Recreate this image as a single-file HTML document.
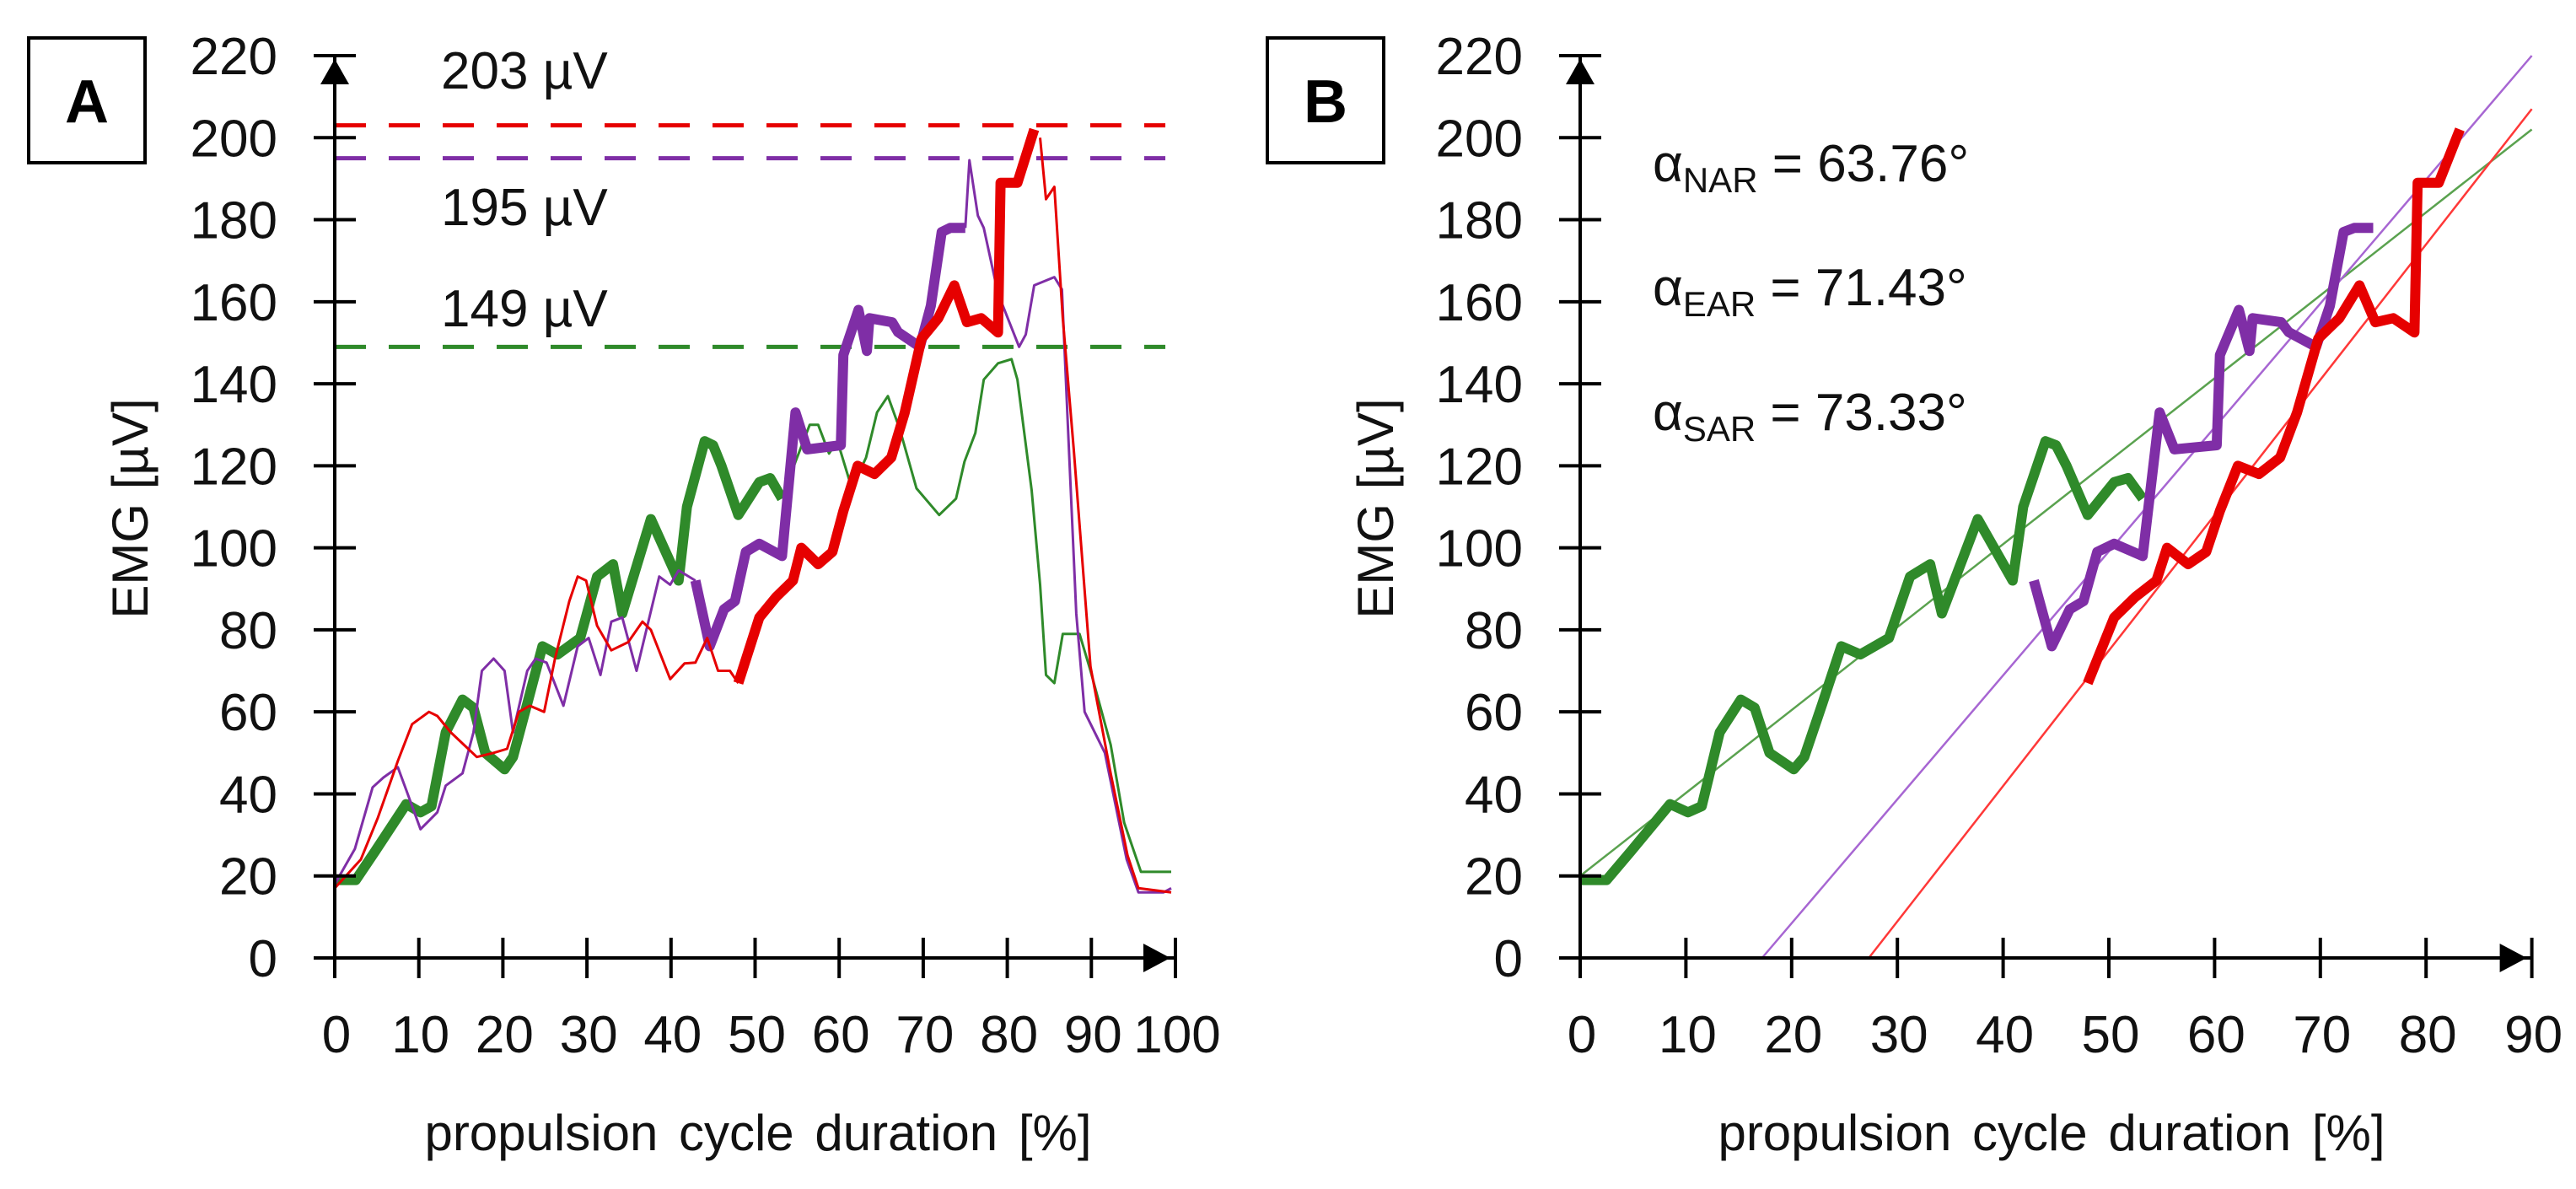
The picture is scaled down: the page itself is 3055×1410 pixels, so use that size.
<!DOCTYPE html>
<html><head><meta charset="utf-8">
<style>
html,body{margin:0;padding:0;background:#fff;}
svg{display:block;font-family:"Liberation Sans",sans-serif;}
</style></head>
<body>
<svg id="chart" width="3055" height="1410" viewBox="0 0 3055 1410" xmlns="http://www.w3.org/2000/svg">
<rect x="0" y="0" width="3055" height="1410" fill="#fff"/>
<g id="panelA"></g>
<g id="panelB"></g>
</svg>
<script>
// ---- data (x = propulsion cycle %, y = EMG µV) ----
const greenX = [0,2.5,4.8,8.5,10.2,11.5,13.2,15.2,16.5,17.9,20.2,21.2,22.9,24.7,26.5,29.2,31.2,33.1,34.2,37.6,40.9,41.9,44,45,46,48,50.5,51.8,53.2,54.8,56.5,57.5,58.8,59.8,61.5,63.2,64.5,65.8,67.2,69.2,71.9,73.9,74.9,76.2,77.2,78.9,80.5,81.2,82.9,83.9,84.6,85.6,86.6,88.6,89.9,92.3,93.9,95.9,99.5];
const greenY = [19,19,26,37.5,35.5,37,55,63,61,50,46,49,62,76,74,78,93,96,84,107,92,110,126,125,120,108,116,117,112,121,130,130,123,126,114.5,122,133,137,129,114.5,108,112,121,128,141,145,146,141,114,91,69,67,79,79,70,52,33,21,21];
const purpleX = [0,2.4,4.5,5.8,7.5,8.5,10.2,12.2,13.2,15.2,16.5,17.5,18.9,20.2,21.2,22.9,23.9,25.2,27.2,28.9,30.2,31.6,32.9,34.2,35.9,38.6,39.9,40.9,42.9,44.6,46.3,47.6,48.9,50.5,53.2,54.8,56.2,60.2,60.5,62.3,63.3,63.6,66.3,67,69.6,70.9,72.2,73.2,75,75.5,76.5,77.2,78.9,81.4,82.2,83.2,85.6,86.5,87.2,88.2,89.2,91.6,94.2,95.6,98.6,99.5];
const purpleY = [18,26.6,41.6,44,46.5,41,31.4,35.5,42,45,55,70,73,70,55,70,73,72,61.5,76,78,69,82,83,70,93,91,94.5,92,76,85,87,99,101,98,133,124,125,147,158,148,156,155,152.6,149,159,177,178,178,194.5,181,178,162,149,152,164,166,163,130,84,60,50,24,16,16,17];
const redX = [0,3.1,5.1,7.5,9.2,11.2,12.2,13.8,16.9,18.9,20.5,21.9,23.2,24.9,26.2,27.9,28.9,29.9,31.2,32.9,34.9,36.6,37.6,39.9,41.6,42.9,44.3,45.6,47,48,50.5,52.5,54.5,55.5,57.5,59.2,60.5,62.2,64.2,66.2,67.8,69.8,71.8,73.7,75.2,76.9,78.9,79.2,81.2,83.2,83.9,84.6,85.6,86.6,87.9,89.9,92.3,94.3,95.6,99.5];
const redY = [17,24,34,48,57,60,59,55,49,50,51,60,61.5,60,73,87,93,92,81,75,77,82,80,68,71.8,72,78,70,70,67,83,88,92,100,96,99,109,120,118,122,133,151,156,164,155,156,152.5,189,189,202,200,185,188,156,124,71,45,25,17,16];
const thickRanges = {green:[0,53.2], purple:[42.9,75], red:[48,83.3]};
const peakValues = [203,195,149];
const peakLabels = ["203 µV","195 µV","149 µV"];
const yTicks = [0,20,40,60,80,100,120,140,160,180,200,220];
const xTicksA = [0,10,20,30,40,50,60,70,80,90,100];
const xTicksB = [0,10,20,30,40,50,60,70,80,90];
// fit lines in panel B: [x0,y0,x1,y1]
const fitGreen = [0,20,90,202];
const fitPurple = [17.2,0,90,220];
const fitRed = [27.3,0,90,207];
const angleNames = ["NAR","EAR","SAR"];
const angleValues = ["63.76°","71.43°","73.33°"];

const NS="http://www.w3.org/2000/svg";
const COL={green:"#2f8a2a",purple:"#7f2ea6",red:"#e60000"};
const FIT={green:"#5aa24f",purple:"#a766d2",red:"#ff3838"};
function mk(tag,attrs,parent){const e=document.createElementNS(NS,tag);for(const k in attrs)e.setAttribute(k,attrs[k]);parent.appendChild(e);return e;}
const Y0=1136, YS=(1136-66)/220;
function yv(v){return Y0-v*YS;}

function drawAxes(g,x0,xs,ticks,xmax){
  const xe=x0+xmax*xs;
  for(const t of yTicks){
    const tk=mk('line',{x1:x0-25,x2:x0+25,y1:yv(t),y2:yv(t),stroke:'#000','stroke-width':4},g);
    
    
    const lb=mk('text',{x:x0-68,y:yv(t)+22,'font-size':62,'text-anchor':'end',fill:'#111'},g);
    lb.textContent=t;
    
    
  }
  for(const t of ticks){
    const xx=x0+t*xs;
    const tk=mk('line',{x1:xx,x2:xx,y1:Y0-24,y2:Y0+24,stroke:'#000','stroke-width':4},g);
    
    
    const lb=mk('text',{x:xx+2,y:Y0+112,'font-size':62,'text-anchor':'middle',fill:'#111'},g);
    lb.textContent=t;
    
    
  }
  const ya=mk('line',{x1:x0,x2:x0,y1:yv(220),y2:Y0+24,stroke:'#000','stroke-width':4},g);
  
  
  const xa=mk('line',{x1:x0-25,x2:xe,y1:Y0,y2:Y0,stroke:'#000','stroke-width':4},g);
  
  
  const ua=mk('path',{d:`M${x0-17},${yv(220)+34} L${x0},${yv(220)+4} L${x0+17},${yv(220)+34} Z`,fill:'#000'},g);
  
  
  const ra=mk('path',{d:`M${xe-38},${Y0-17} L${xe-6},${Y0} L${xe-38},${Y0+17} Z`,fill:'#000'},g);
  
  
}
function pts(X,Y,x0,xs,lo,hi){
  const p=[];
  for(let i=0;i<X.length;i++){ if(X[i]>=lo-1e-9 && X[i]<=hi+1e-9) p.push((x0+X[i]*xs).toFixed(1)+','+yv(Y[i]).toFixed(1)); }
  return p.join(' ');
}
function series(g,name,X,Y,x0,xs,withThin){
  const r=thickRanges[name];
  if(withThin){
    const a=mk('polyline',{points:pts(X,Y,x0,xs,-1,r[0]),fill:'none',stroke:COL[name],'stroke-width':3,'stroke-linejoin':'round'},g);
    
    
    const b=mk('polyline',{points:pts(X,Y,x0,xs,r[1],101),fill:'none',stroke:COL[name],'stroke-width':3,'stroke-linejoin':'round'},g);
    
    
  }
  const t=mk('polyline',{points:pts(X,Y,x0,xs,r[0],r[1]),fill:'none',stroke:COL[name],'stroke-width':12,'stroke-linejoin':'round','stroke-linecap':'butt'},g);
  
  
}
function frame(g,x,letter){
  const r=mk('rect',{x:x,y:45,width:138,height:148,fill:'#fff',stroke:'#000','stroke-width':4},g);
  
  
  const t=mk('text',{x:x+69,y:145,'font-size':72,'font-weight':'bold','text-anchor':'middle',fill:'#000'},g);
  t.textContent=letter;
  
  
}
function titles(g,ylx,xtx){
  const yl=mk('text',{x:0,y:0,'font-size':60,'text-anchor':'middle',fill:'#111',transform:`translate(${ylx},603) rotate(-90)`},g);
  yl.textContent='EMG [µV]';
  
  
  const xl=mk('text',{x:xtx,y:1364,'font-size':60,'text-anchor':'middle',fill:'#111','word-spacing':'8'},g);
  xl.textContent='propulsion cycle duration [%]';
  
  
}

// ---- Panel A ----
(function(){
  const g=document.getElementById('panelA');
  const x0=397, xs=9.97;
  frame(g,34,'A');
  titles(g,175,899);
  const dcols=[COL.red,COL.purple,COL.green];
  peakValues.forEach((v,i)=>{
    const l=mk('line',{x1:x0,x2:x0+98.8*xs,y1:yv(v),y2:yv(v),stroke:dcols[i],'stroke-width':5,'stroke-dasharray':'37 27'},g);
    
    
  });
  const ly=[105,267,387];
  peakLabels.forEach((s,i)=>{
    const t=mk('text',{x:523,y:ly[i],'font-size':62,fill:'#111'},g);
    t.textContent=s;
    
    
  });
  series(g,'green',greenX,greenY,x0,xs,true);
  series(g,'purple',purpleX,purpleY,x0,xs,true);
  series(g,'red',redX,redY,x0,xs,true);
  drawAxes(g,x0,xs,xTicksA,100);
})();

// ---- Panel B ----
(function(){
  const g=document.getElementById('panelB');
  const x0=1874, xs=12.54;
  frame(g,1503,'B');
  titles(g,1652,2433);
  const fits={green:fitGreen,purple:fitPurple,red:fitRed};
  for(const k in fits){
    const f=fits[k];
    const l=mk('line',{x1:x0+f[0]*xs,y1:yv(f[1]),x2:x0+f[2]*xs,y2:yv(f[3]),stroke:FIT[k],'stroke-width':2.5},g);
    
    
  }
  series(g,'green',greenX,greenY,x0,xs,false);
  series(g,'purple',purpleX,purpleY,x0,xs,false);
  series(g,'red',redX,redY,x0,xs,false);
  drawAxes(g,x0,xs,xTicksB,90);
  const by=[215,362,510];
  angleNames.forEach((n,i)=>{
    const t=mk('text',{x:1960,y:by[i],'font-size':62,fill:'#111'},g);
    
    
    const a=mk('tspan',{},t); a.textContent='α';
    const s=mk('tspan',{'font-size':42,dy:13},t); s.textContent=n;
    const r=mk('tspan',{dy:-13},t); r.textContent=' = '+angleValues[i];
  });
})();
</script>
</body></html>
